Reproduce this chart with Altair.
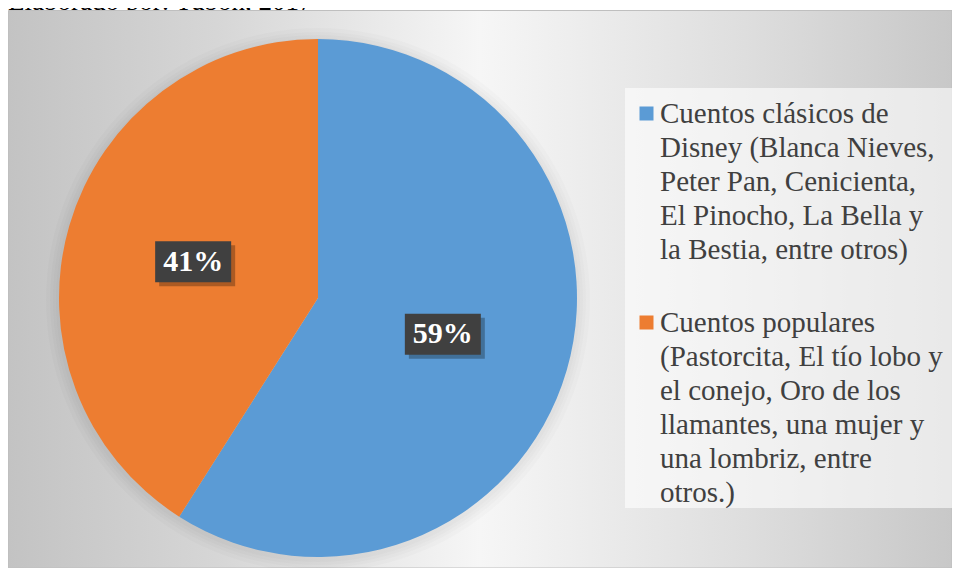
import altair as alt
import pandas as pd

# ---- data ----
categories = [
    "Cuentos clásicos de Disney (Blanca Nieves, Peter Pan, Cenicienta, El Pinocho, La Bella y la Bestia, entre otros)",
    "Cuentos populares (Pastorcita, El tío lobo y el conejo, Oro de los llamantes, una mujer y una lombriz, entre otros.)",
]
values = [59, 41]
colors = ["#5B9BD5", "#ED7D31"]
legend_lines = [
    ["Cuentos clásicos de", "Disney (Blanca Nieves,", "Peter Pan, Cenicienta,",
     "El Pinocho, La Bella y", "la Bestia, entre otros)"],
    ["Cuentos populares", "(Pastorcita, El tío lobo y", "el conejo, Oro de los",
     "llamantes, una mujer y", "una lombriz, entre", "otros.)"],
]
source_note = "Elaborado por: Tubon, 2017"

SERIF = "'Liberation Serif', 'Times New Roman', Tinos, serif"

# ---- layout ----
W, H = 944, 560
CX, CY, R = 310, 290, 259
LR = 130            # label radius
BW, BH = 76, 41     # label box size
LEG_X = 652
LINE_H = 34
FIRST_BASE = 115
ENTRY_GAP = 39
HALO = [272, 268, 265, 262]

pie_df = pd.DataFrame({"cat": categories, "value": values, "order": list(range(len(values)))})

bases = []
b = FIRST_BASE
for lines in legend_lines:
    bases.append(b)
    b += len(lines) * LINE_H + ENTRY_GAP
leg_df = pd.DataFrame({
    "cat": categories,
    "text": ["\n".join(l) for l in legend_lines],
    "base": bases,
})
leg_df["sw"] = leg_df["base"] - 9.5

one = pd.DataFrame({"a": [0]})
color_scale = alt.Scale(domain=categories, range=colors)

gradient = {
    "gradient": "linear",
    "x1": 0, "y1": 0.5, "x2": 1, "y2": 0.5,
    "stops": [
        {"offset": 0.0, "color": "#c3c3c3"},
        {"offset": 0.22, "color": "#d6d6d6"},
        {"offset": 0.5, "color": "#f6f6f6"},
        {"offset": 0.78, "color": "#dedede"},
        {"offset": 1.0, "color": "#c8c8c8"},
    ],
}

note = alt.Chart(one).mark_text(
    text=source_note, align="left", baseline="alphabetic",
    font=SERIF, fontSize=27, color="#000000",
).encode(x=alt.value(0), y=alt.value(1.5))

bg = alt.Chart(one).mark_rect(fill=gradient, stroke="#bfbfbf", strokeWidth=1).encode(
    x=alt.value(0.5), x2=alt.value(W), y=alt.value(2.5), y2=alt.value(H)
)

halo_layers = [
    alt.Chart(one).mark_arc(theta=0, theta2=6.2832, radius=r, fill="#000000",
                            fillOpacity=0.014).encode(x=alt.value(CX), y=alt.value(CY + 2))
    for r in HALO
]

pie = alt.Chart(pie_df).mark_arc(radius=R).encode(
    theta=alt.Theta("value:Q", stack=True),
    color=alt.Color("cat:N", scale=color_scale, legend=None),
    order=alt.Order("order:Q"),
    x=alt.value(CX),
    y=alt.value(CY),
)

lab_base = alt.Chart(pie_df).transform_window(
    cum="sum(value)", sort=[alt.SortField("order")], frame=[None, 0]
).transform_joinaggregate(
    total="sum(value)"
).transform_calculate(
    mid="2*PI*(datum.cum - datum.value/2)/datum.total",
).transform_calculate(
    px=f"{CX} + {LR}*sin(datum.mid)",
    py=f"{CY} - {LR}*cos(datum.mid)",
    label="datum.value + '%'",
).transform_calculate(
    bx0=f"datum.px - {BW/2}", bx1=f"datum.px + {BW/2}",
    by0=f"datum.py - {BH/2}", by1=f"datum.py + {BH/2}",
    sx0=f"datum.px - {BW/2} + 4", sx1=f"datum.px + {BW/2} + 4",
    sy0=f"datum.py - {BH/2} + 4", sy1=f"datum.py + {BH/2} + 4",
)

shadow = lab_base.mark_rect(fill="#000000", opacity=0.28).encode(
    x=alt.X("sx0:Q", scale=None, axis=None), x2="sx1:Q",
    y=alt.Y("sy0:Q", scale=None, axis=None), y2="sy1:Q",
)
box = lab_base.mark_rect(fill="#404040").encode(
    x=alt.X("bx0:Q", scale=None, axis=None), x2="bx1:Q",
    y=alt.Y("by0:Q", scale=None, axis=None), y2="by1:Q",
)
labels = lab_base.mark_text(
    font=SERIF, fontSize=30, fontWeight="bold", color="#ffffff",
    align="center", baseline="middle",
).encode(
    x=alt.X("px:Q", scale=None, axis=None),
    y=alt.Y("py:Q", scale=None, axis=None),
    text="label:N",
)

leg_box = alt.Chart(one).mark_rect(fill="#ffffff", opacity=0.6).encode(
    x=alt.value(617), x2=alt.value(946), y=alt.value(80), y2=alt.value(500)
)
swatches = alt.Chart(leg_df).mark_square(size=196, opacity=1, filled=True).encode(
    x=alt.value(638.5),
    y=alt.Y("sw:Q", scale=None, axis=None),
    color=alt.Color("cat:N", scale=color_scale, legend=None),
)
leg_text = alt.Chart(leg_df).mark_text(
    align="left", baseline="alphabetic", lineBreak="\n", lineHeight=LINE_H,
    font=SERIF, fontSize=29, color="#404040",
).encode(
    x=alt.value(LEG_X),
    y=alt.Y("base:Q", scale=None, axis=None),
    text="text:N",
)

chart = alt.layer(
    note, bg, *halo_layers, pie, shadow, box, labels, leg_box, swatches, leg_text
).properties(
    width=W, height=H, padding=0,
    autosize=alt.AutoSizeParams(type="none"),
    background="#ffffff",
).configure_view(strokeWidth=0)

chart.save("out.html", embed_options={"renderer": "svg", "actions": False})
